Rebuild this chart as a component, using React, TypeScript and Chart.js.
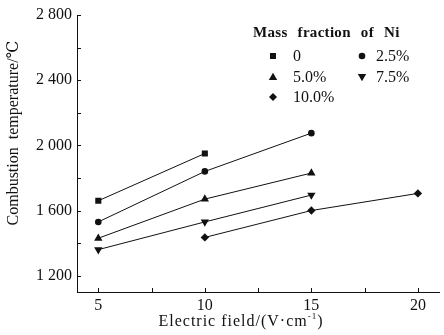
import React, { useEffect, useRef } from "react";
import { Chart, registerables } from "chart.js";

Chart.register(...registerables);

const fieldsA = [5, 10];
const fieldsB = [5, 10, 15];
const fieldsC = [10, 15, 20];

const ni0 = [1660, 1950];
const ni25 = [1530, 1840, 2075];
const ni50 = [1430, 1670, 1830];
const ni75 = [1360, 1530, 1695];
const ni100 = [1435, 1600, 1705];

const seriesLabels = ["0", "2.5%", "5.0%", "7.5%", "10.0%"];
const yTickValues = [1200, 1600, 2000, 2400, 2800];
const xTickValues = [5, 10, 15, 20];

const legendTitle = "Mass fraction of Ni";
const xTitle = "Electric field/(V\u00b7cm";
const yTitle = "Combustion  temperature/\u2103";

const SERIF = "'Liberation Serif', 'DejaVu Serif', serif";

function pts(xs: number[], ys: number[]) {
  return xs.map((x, i) => ({ x, y: ys[i] }));
}

function drawMarker(ctx: CanvasRenderingContext2D, kind: string, x: number, y: number) {
  ctx.beginPath();
  if (kind === "rect") {
    ctx.rect(x - 3, y - 3, 6, 6);
  } else if (kind === "circle") {
    ctx.arc(x, y, 3.3, 0, Math.PI * 2);
  } else if (kind === "tri") {
    ctx.moveTo(x, y - 4.2);
    ctx.lineTo(x + 4.2, y + 3);
    ctx.lineTo(x - 4.2, y + 3);
    ctx.closePath();
  } else if (kind === "triDown") {
    ctx.moveTo(x, y + 4.2);
    ctx.lineTo(x + 4.2, y - 3);
    ctx.lineTo(x - 4.2, y - 3);
    ctx.closePath();
  } else {
    ctx.moveTo(x, y - 4);
    ctx.lineTo(x + 4, y);
    ctx.lineTo(x, y + 4);
    ctx.lineTo(x - 4, y);
    ctx.closePath();
  }
  ctx.fill();
}

const decorPlugin = {
  id: "decor",
  afterDraw(chart: any) {
    const ctx: any = chart.ctx;
    const xs = chart.scales.x;
    const ys = chart.scales.y;
    const area = chart.chartArea;
    ctx.save();
    ctx.strokeStyle = "#111";
    ctx.fillStyle = "#111";
    ctx.lineWidth = 1;
    // y ticks (inward)
    for (let v = 1200; v <= 2800; v += 200) {
      const py = Math.round(ys.getPixelForValue(v)) + 0.5;
      ctx.beginPath();
      ctx.moveTo(area.left, py);
      ctx.lineTo(area.left + 4, py);
      ctx.stroke();
    }
    // x ticks (inward)
    for (let v = 5; v <= 20; v += 2.5) {
      const px = Math.round(xs.getPixelForValue(v)) + 0.5;
      ctx.beginPath();
      ctx.moveTo(px, area.bottom);
      ctx.lineTo(px, area.bottom - 4);
      ctx.stroke();
    }
    // x title
    ctx.letterSpacing = "1px";
    ctx.font = `16px ${SERIF}`;
    ctx.textBaseline = "middle";
    const w1 = ctx.measureText(xTitle).width;
    ctx.font = `9px ${SERIF}`;
    const w2 = ctx.measureText("-1").width;
    ctx.font = `16px ${SERIF}`;
    const w3 = ctx.measureText(")").width;
    const total = w1 + w2 + w3;
    const sx = 241 - total / 2;
    ctx.textAlign = "left";
    ctx.fillText(xTitle, sx, 322);
    ctx.font = `9px ${SERIF}`;
    ctx.fillText("-1", sx + w1, 317);
    ctx.font = `16px ${SERIF}`;
    ctx.fillText(")", sx + w1 + w2, 322);
    ctx.letterSpacing = "0px";
    // y title
    ctx.save();
    ctx.translate(14, 133);
    ctx.rotate(-Math.PI / 2);
    ctx.textAlign = "center";
    ctx.font = `16px ${SERIF}`;
    ctx.fillText(yTitle, 0, 0);
    ctx.restore();
    // legend
    ctx.textAlign = "left";
    ctx.font = `bold 15px ${SERIF}`;
    ctx.wordSpacing = "6px";
    ctx.letterSpacing = "0.3px";
    ctx.fillText(legendTitle, 253, 33);
    ctx.wordSpacing = "0px";
    ctx.letterSpacing = "0px";
    ctx.font = `16px ${SERIF}`;
    const items = [
      { k: "rect", mx: 273, tx: 293, y: 56 },
      { k: "circle", mx: 362, tx: 376, y: 56 },
      { k: "tri", mx: 273, tx: 293, y: 77 },
      { k: "triDown", mx: 362, tx: 376, y: 77 },
      { k: "diamond", mx: 273, tx: 293, y: 97 },
    ];
    items.forEach((it, i) => {
      drawMarker(ctx, it.k, it.mx, it.y);
      ctx.fillText(seriesLabels[i], it.tx, it.y + 1);
    });
    ctx.restore();
  },
};

export default function App() {
  const ref = useRef<HTMLCanvasElement | null>(null);
  useEffect(() => {
    if (!ref.current) return;
    const common = {
      borderColor: "#111",
      backgroundColor: "#111",
      pointBackgroundColor: "#111",
      pointBorderColor: "#111",
      borderWidth: 1,
      pointBorderWidth: 0,
      showLine: true,
      tension: 0,
    };
    const chart = new Chart(ref.current, {
      type: "scatter",
      data: {
        datasets: [
          { ...common, label: seriesLabels[0], data: pts(fieldsA, ni0), pointStyle: "rect", pointRadius: 4.3 },
          { ...common, label: seriesLabels[1], data: pts(fieldsB, ni25), pointStyle: "circle", pointRadius: 3.3 },
          { ...common, label: seriesLabels[2], data: pts(fieldsB, ni50), pointStyle: "triangle", pointRadius: 4.8 },
          { ...common, label: seriesLabels[3], data: pts(fieldsB, ni75), pointStyle: "triangle", pointRotation: 180, pointRadius: 4.8 },
          { ...common, label: seriesLabels[4], data: pts(fieldsC, ni100), pointStyle: "rectRot", pointRadius: 4.2 },
        ],
      },
      options: {
        animation: false,
        responsive: false,
        maintainAspectRatio: false,
        layout: { padding: { top: 15, right: 0, bottom: 0, left: 0 } },
        plugins: { legend: { display: false }, tooltip: { enabled: false } },
        scales: {
          x: {
            type: "linear",
            min: 4,
            max: 21,
            grid: { display: false, drawTicks: false },
            border: { display: true, color: "#111", width: 1 },
            afterBuildTicks: (s: any) => {
              s.ticks = xTickValues.map((v) => ({ value: v }));
            },
            afterFit: (s: any) => {
              s.height = 43;
            },
            ticks: {
              color: "#111",
              padding: 4,
              maxRotation: 0,
              font: { family: SERIF, size: 16 },
            },
          },
          y: {
            type: "linear",
            min: 1100,
            max: 2800,
            grid: { display: false, drawTicks: false },
            border: { display: true, color: "#111", width: 1 },
            afterBuildTicks: (s: any) => {
              s.ticks = yTickValues.map((v) => ({ value: v }));
            },
            afterFit: (s: any) => {
              s.width = 77;
            },
            ticks: {
              color: "#111",
              padding: 5,
              font: { family: SERIF, size: 16 },
              callback: (v: any) => {
                const n = Number(v);
                const th = Math.floor(n / 1000);
                const rest = String(n % 1000).padStart(3, "0");
                return `${th} ${rest}`;
              },
            },
          },
        },
      },
      plugins: [decorPlugin],
    });
    return () => chart.destroy();
  }, []);
  return (
    <div style={{ position: "absolute", left: 0, top: 0, width: 444, height: 335, background: "#fff" }}>
      <canvas ref={ref} width={444} height={335} style={{ width: 444, height: 335 }} />
    </div>
  );
}
